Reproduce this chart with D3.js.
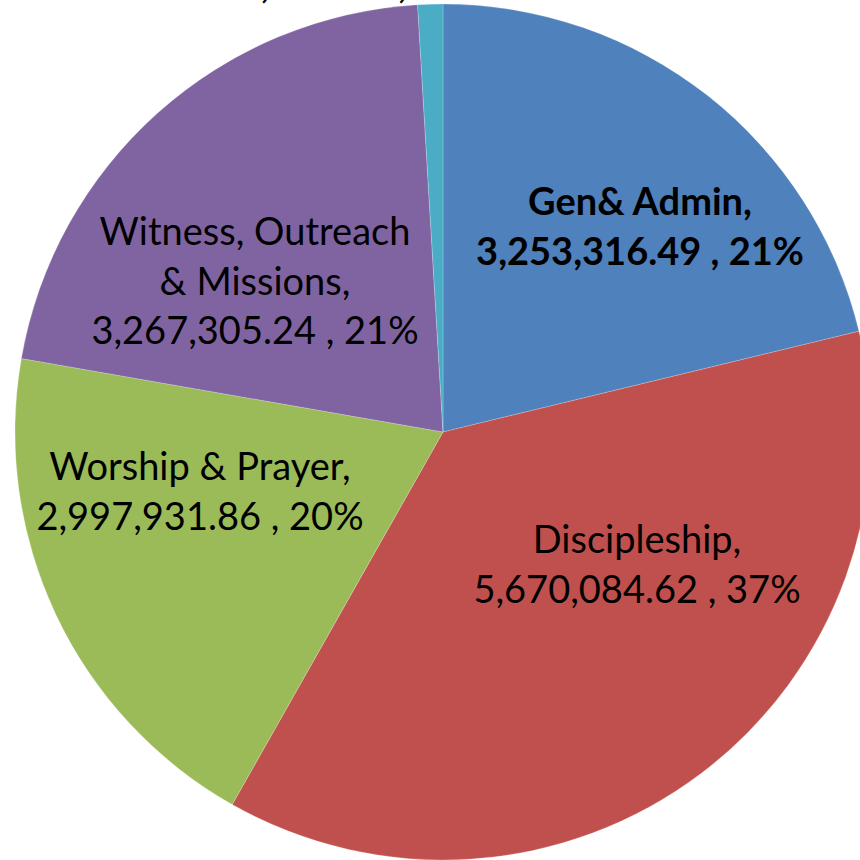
<!DOCTYPE html>
<html><head><meta charset="utf-8">
<script src="https://cdn.jsdelivr.net/npm/d3@7"></script>
<style>html,body{margin:0;padding:0;background:#fff;overflow:hidden}</style>
</head><body>
<svg id="c" width="860" height="860"></svg>
<script>
const categories = ["Gen& Admin", "Discipleship", "Worship & Prayer", "Witness, Outreach & Missions", "Other"];
const values = [3253316.49, 5670084.62, 2997931.86, 3267305.24, 145000];
const colors = ["#4F81BD", "#C0504D", "#9BBB59", "#8064A2", "#4BACC6"];
const labelLines = [
  ["Gen& Admin,", "3,253,316.49 , 21%"],
  ["Discipleship,", "5,670,084.62 , 37%"],
  ["Worship & Prayer,", "2,997,931.86 , 20%"],
  ["Witness, Outreach", "& Missions,", "3,267,305.24 , 21%"],
  ["145,000.00 , 1%"]
];
const labelBold = [true, false, false, false, true];
const labelPos = [[640, 202], [637, 540], [200, 467], [255, 232], [332, -15]];

const svg = d3.select("#c");
const cx = 443, cy = 432, r = 428;
const g = svg.append("g").attr("transform", `translate(${cx},${cy})`);
const data = categories.map((c, i) => ({name: c, value: values[i], i}));
const pie = d3.pie().value(d => d.value).sort(null);
const arc = d3.arc().innerRadius(0).outerRadius(r);
g.selectAll("path").data(pie(data)).join("path")
  .attr("d", arc).attr("fill", d => colors[d.data.i])
  .attr("stroke", "rgba(255,255,255,0.25)").attr("stroke-width", 0.8);

const lh = 49.5;
labelLines.forEach((lines, i) => {
  const t = svg.append("text")
    .attr("text-anchor", "middle")
    .attr("font-family", "Lato, 'Noto Sans', sans-serif")
    .attr("font-size", 38)
    .attr("font-weight", labelBold[i] ? "bold" : "normal")
    .attr("fill", "#000");
  lines.forEach((ln, k) => {
    t.append("tspan").attr("x", labelPos[i][0]).attr("y", labelPos[i][1] + k * lh)
      .attr("dy", "0.35em").text(ln);
  });
});
</script>
</body></html>
